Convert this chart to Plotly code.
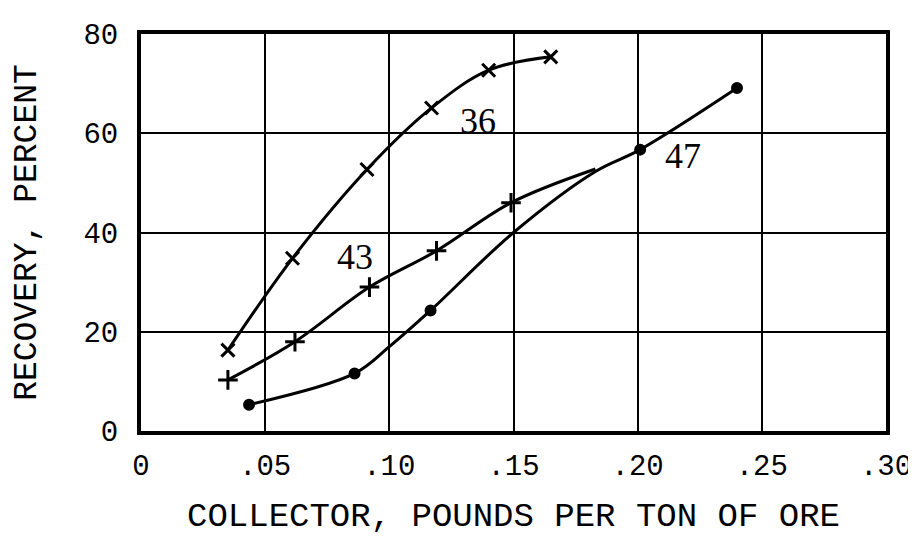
import plotly.graph_objects as go

# Data
x36 = [0.035, 0.061, 0.091, 0.117, 0.140, 0.165]
y36 = [16.3, 34.8, 52.7, 65.1, 72.7, 75.4]

x43 = [0.035, 0.062, 0.092, 0.119, 0.149, 0.183]
y43 = [10.3, 18.0, 29.0, 36.3, 46.0, 52.8]
marked43 = [True, True, True, True, True, False]

x47 = [0.0435, 0.086, 0.100, 0.1166, 0.150, 0.183, 0.201, 0.240]
y47 = [5.3, 11.6, 17.0, 24.3, 40.0, 52.3, 56.7, 69.1]
marked47 = [True, True, False, True, False, False, True, True]

xticks = [0, 0.05, 0.10, 0.15, 0.20, 0.25, 0.30]
xticklabels = ["0", ".05", ".10", ".15", ".20", ".25", ".30"]
yticks = [0, 20, 40, 60, 80]

curve_labels = ["36", "43", "47"]
label_x = [0.1358, 0.0862, 0.2184]
label_y = [62.4, 35.0, 55.4]

MONO = "Liberation Mono, Courier New, monospace"
SERIF = "Liberation Serif, serif"

fig = go.Figure()

def add_curve(xs, ys, symbol, size, mask=None):
    fig.add_trace(go.Scatter(x=xs, y=ys, mode="lines",
                             line=dict(color="black", width=3, shape="spline", smoothing=1.0),
                             showlegend=False, hoverinfo="skip"))
    if mask is None:
        mx, my = xs, ys
    else:
        mx = [a for a, k in zip(xs, mask) if k]
        my = [b for b, k in zip(ys, mask) if k]
    fig.add_trace(go.Scatter(x=mx, y=my, mode="markers",
                             marker=dict(symbol=symbol, size=size, color="black",
                                         line=dict(color="black", width=3)),
                             showlegend=False))

add_curve(x36, y36, "x-thin", 13)
add_curve(x43, y43, "cross-thin", 14, marked43)
add_curve(x47, y47, "circle", 9, marked47)

for t, lx, ly in zip(curve_labels, label_x, label_y):
    fig.add_annotation(x=lx, y=ly, text=t, showarrow=False,
                       font=dict(family=SERIF, size=36, color="black"))

fig.update_xaxes(range=[0, 0.30], tickvals=xticks, ticktext=xticklabels,
                 showgrid=True, gridcolor="black", gridwidth=2,
                 showline=True, linecolor="black", linewidth=4, mirror=True,
                 zeroline=False, ticks="", ticklabelstandoff=5,
                 tickfont=dict(family=MONO, size=29, color="black"),
                 title=dict(text="COLLECTOR, POUNDS PER TON OF ORE",
                            font=dict(family=MONO, size=34, color="black"), standoff=20))
fig.update_yaxes(range=[0, 80], tickvals=yticks,
                 showgrid=True, gridcolor="black", gridwidth=2,
                 showline=True, linecolor="black", linewidth=4, mirror=True,
                 zeroline=False, ticks="", ticklabelstandoff=13,
                 tickfont=dict(family=MONO, size=29, color="black"),
                 title=dict(text="RECOVERY, PERCENT",
                            font=dict(family=MONO, size=33, color="black"), standoff=38))

fig.update_layout(width=916, height=538,
                  margin=dict(l=133, r=34, t=24, b=115),
                  paper_bgcolor="white", plot_bgcolor="white")

fig.write_html("out.html")
